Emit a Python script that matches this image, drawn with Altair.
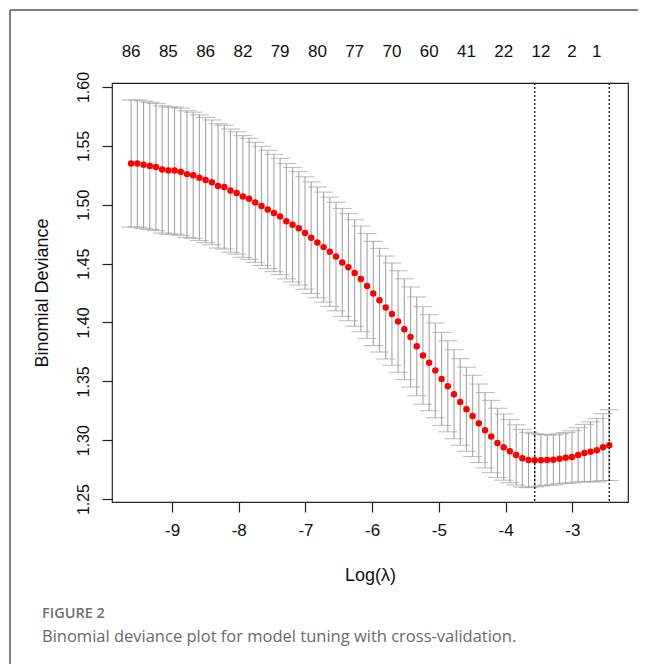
import altair as alt
import pandas as pd

# ---- data ----
log_lambda = [
    -9.614, -9.520, -9.427, -9.334, -9.241, -9.148, -9.055, -8.962, -8.869, -8.776,
    -8.683, -8.590, -8.497, -8.403, -8.310, -8.217, -8.124, -8.031, -7.938, -7.845,
    -7.752, -7.659, -7.566, -7.473, -7.380, -7.286, -7.193, -7.100, -7.007, -6.914,
    -6.821, -6.728, -6.635, -6.542, -6.449, -6.356, -6.263, -6.170, -6.076, -5.983,
    -5.890, -5.797, -5.704, -5.611, -5.518, -5.425, -5.332, -5.239, -5.146, -5.053,
    -4.959, -4.866, -4.773, -4.680, -4.587, -4.494, -4.401, -4.308, -4.215, -4.122,
    -4.029, -3.936, -3.842, -3.749, -3.656, -3.563, -3.470, -3.377, -3.284, -3.191,
    -3.098, -3.005, -2.912, -2.819, -2.725, -2.632, -2.539, -2.446,
]
cvm = [
    1.535, 1.535, 1.534, 1.533, 1.532, 1.530, 1.529, 1.529, 1.528, 1.526,
    1.525, 1.523, 1.521, 1.519, 1.516, 1.515, 1.512, 1.510, 1.507, 1.505,
    1.502, 1.499, 1.496, 1.493, 1.490, 1.486, 1.483, 1.480, 1.476, 1.472,
    1.468, 1.464, 1.460, 1.456, 1.451, 1.447, 1.442, 1.437, 1.431, 1.4246,
    1.4189, 1.4127, 1.4071, 1.4008, 1.3943, 1.3876, 1.3797, 1.3720, 1.3658, 1.3593,
    1.3520, 1.3458, 1.3390, 1.3325, 1.3263, 1.3206, 1.3144, 1.3085, 1.3031, 1.2977,
    1.2941, 1.2907, 1.2875, 1.2847, 1.2832, 1.2829, 1.2830, 1.2831, 1.2833, 1.2842,
    1.2850, 1.2858, 1.2875, 1.2892, 1.2901, 1.2915, 1.2941, 1.2958,
]
cvsd = [
    0.0540, 0.0540, 0.0540, 0.0540, 0.0540, 0.0540, 0.0540, 0.0540, 0.0540, 0.0538,
    0.0536, 0.0534, 0.0532, 0.0530, 0.0528, 0.0526, 0.0523, 0.0520, 0.0517, 0.0514,
    0.0510, 0.0506, 0.0502, 0.0498, 0.0494, 0.0490, 0.0486, 0.0482, 0.0478, 0.0474,
    0.0470, 0.0467, 0.0464, 0.0461, 0.0458, 0.0455, 0.0452, 0.0449, 0.0446, 0.0443,
    0.0440, 0.0437, 0.0434, 0.0431, 0.0428, 0.0425, 0.0420, 0.0414, 0.0408, 0.0402,
    0.0395, 0.0387, 0.0378, 0.0368, 0.0357, 0.0345, 0.0333, 0.0320, 0.0307, 0.0294,
    0.0281, 0.0268, 0.0256, 0.0245, 0.0235, 0.0226, 0.0219, 0.0214, 0.0212, 0.0212,
    0.0215, 0.0222, 0.0231, 0.0242, 0.0255, 0.0269, 0.0284, 0.0300,
]
nz_pos = [-9.614, -9.055, -8.497, -7.938, -7.380, -6.821, -6.263,
          -5.704, -5.146, -4.587, -4.029, -3.470, -3.005, -2.632]
nz_labels = ["86", "85", "86", "82", "79", "80", "77", "70", "60", "41", "22", "12", "2", "1"]
x_ticks = [-9, -8, -7, -6, -5, -4, -3]
y_ticks = [1.25, 1.30, 1.35, 1.40, 1.45, 1.50, 1.55, 1.60]
lambda_lines = [-3.563, -2.446]
caption_head = ["FIGURE 2"]
caption_text = ["Binomial deviance plot for model tuning with cross-validation."]

df = pd.DataFrame({"loglam": log_lambda, "cvm": cvm, "cvsd": cvsd})
df["upper"] = df["cvm"] + df["cvsd"]
df["lower"] = df["cvm"] - df["cvsd"]

FONT = "Liberation Sans"
W, H = 516, 419

xscale = alt.Scale(domain=[-9.90, -2.165], nice=False, zero=False)
yscale = alt.Scale(domain=[1.2475, 1.6034], nice=False, zero=False)

xaxis = alt.Axis(values=x_ticks, labelExpr="'' + datum.value", title="Log(λ)",
                 tickSize=10, tickColor="#222", tickWidth=1.2,
                 labelFont=FONT, labelFontSize=17, labelColor="#111", labelPadding=10,
                 titleFont=FONT, titleFontSize=18, titleFontWeight="normal", titleColor="#111",
                 titleX=W / 2, titleY=73, titleBaseline="middle", titleAlign="center",
                 domain=False, grid=False)
yaxis = alt.Axis(values=y_ticks, format=".2f", title="Binomial Deviance",
                 tickSize=10, tickColor="#222", tickWidth=1.2,
                 labelFont=FONT, labelFontSize=16, labelColor="#111", labelPadding=11,
                 labelAngle=270, labelAlign="center", labelBaseline="bottom",
                 titleFont=FONT, titleFontSize=18, titleFontWeight="normal", titleColor="#111",
                 titleAngle=270, titleX=-70, titleY=H / 2, titleAlign="center", titleBaseline="middle",
                 domain=False, grid=False)


def X(field):
    return alt.X(f"{field}:Q", scale=xscale, axis=xaxis)


def Y(field):
    return alt.Y(f"{field}:Q", scale=yscale, axis=yaxis)


base = alt.Chart(df)
GREY = "#A4A4A4"

bars = base.mark_rule(color=GREY, strokeWidth=1.1).encode(x=X("loglam"), y=Y("lower"), y2="upper:Q")
cap_up = base.mark_tick(color=GREY, orient="horizontal", size=19, thickness=1.1).encode(x=X("loglam"), y=Y("upper"))
cap_lo = base.mark_tick(color=GREY, orient="horizontal", size=19, thickness=1.1).encode(x=X("loglam"), y=Y("lower"))
pts = base.mark_circle(color="#FF0000", size=42, opacity=1).encode(x=X("loglam"), y=Y("cvm"))

vlines = alt.Chart(pd.DataFrame({"loglam": lambda_lines})).mark_rule(
    color="#111", strokeWidth=1.3, strokeDash=[2, 2]).encode(x=X("loglam"))

top = alt.Chart(pd.DataFrame({"pos": nz_pos, "lab": nz_labels})).mark_text(
    font=FONT, fontSize=17, color="#111", baseline="middle", align="center").encode(
    x=X("pos"), y=alt.value(-31), text="lab:N")

cap1 = alt.Chart(pd.DataFrame({"t": caption_head})).mark_text(
    font="Open Sans", fontSize=14.5, fontWeight=600, color="#707070", align="left", baseline="middle").encode(
    text="t:N", x=alt.value(-70), y=alt.value(531))
cap2 = alt.Chart(pd.DataFrame({"t": caption_text})).mark_text(
    font="Open Sans", fontSize=16.5, color="#6a6a6a", align="left", baseline="middle").encode(
    text="t:N", x=alt.value(-70), y=alt.value(554))

frame_v = alt.Chart(pd.DataFrame({"a": [0]})).mark_rule(color="#555", strokeWidth=1.5).encode(
    x=alt.value(-102), y=alt.value(-73), y2=alt.value(589))
frame_h = alt.Chart(pd.DataFrame({"a": [0]})).mark_rule(color="#555", strokeWidth=1.5).encode(
    x=alt.value(-102), x2=alt.value(534), y=alt.value(-73))

chart = alt.layer(bars, cap_up, cap_lo, pts, vlines, top, cap1, cap2, frame_v, frame_h).properties(
    width=W, height=H,
    padding={"left": 104, "top": 75, "right": 10, "bottom": 162},
    autosize=alt.AutoSizeParams(type="none"),
    background="white",
).configure_view(stroke="#222", strokeWidth=1.2)

chart.save("out.html", embed_options={"renderer": "svg", "actions": False})
